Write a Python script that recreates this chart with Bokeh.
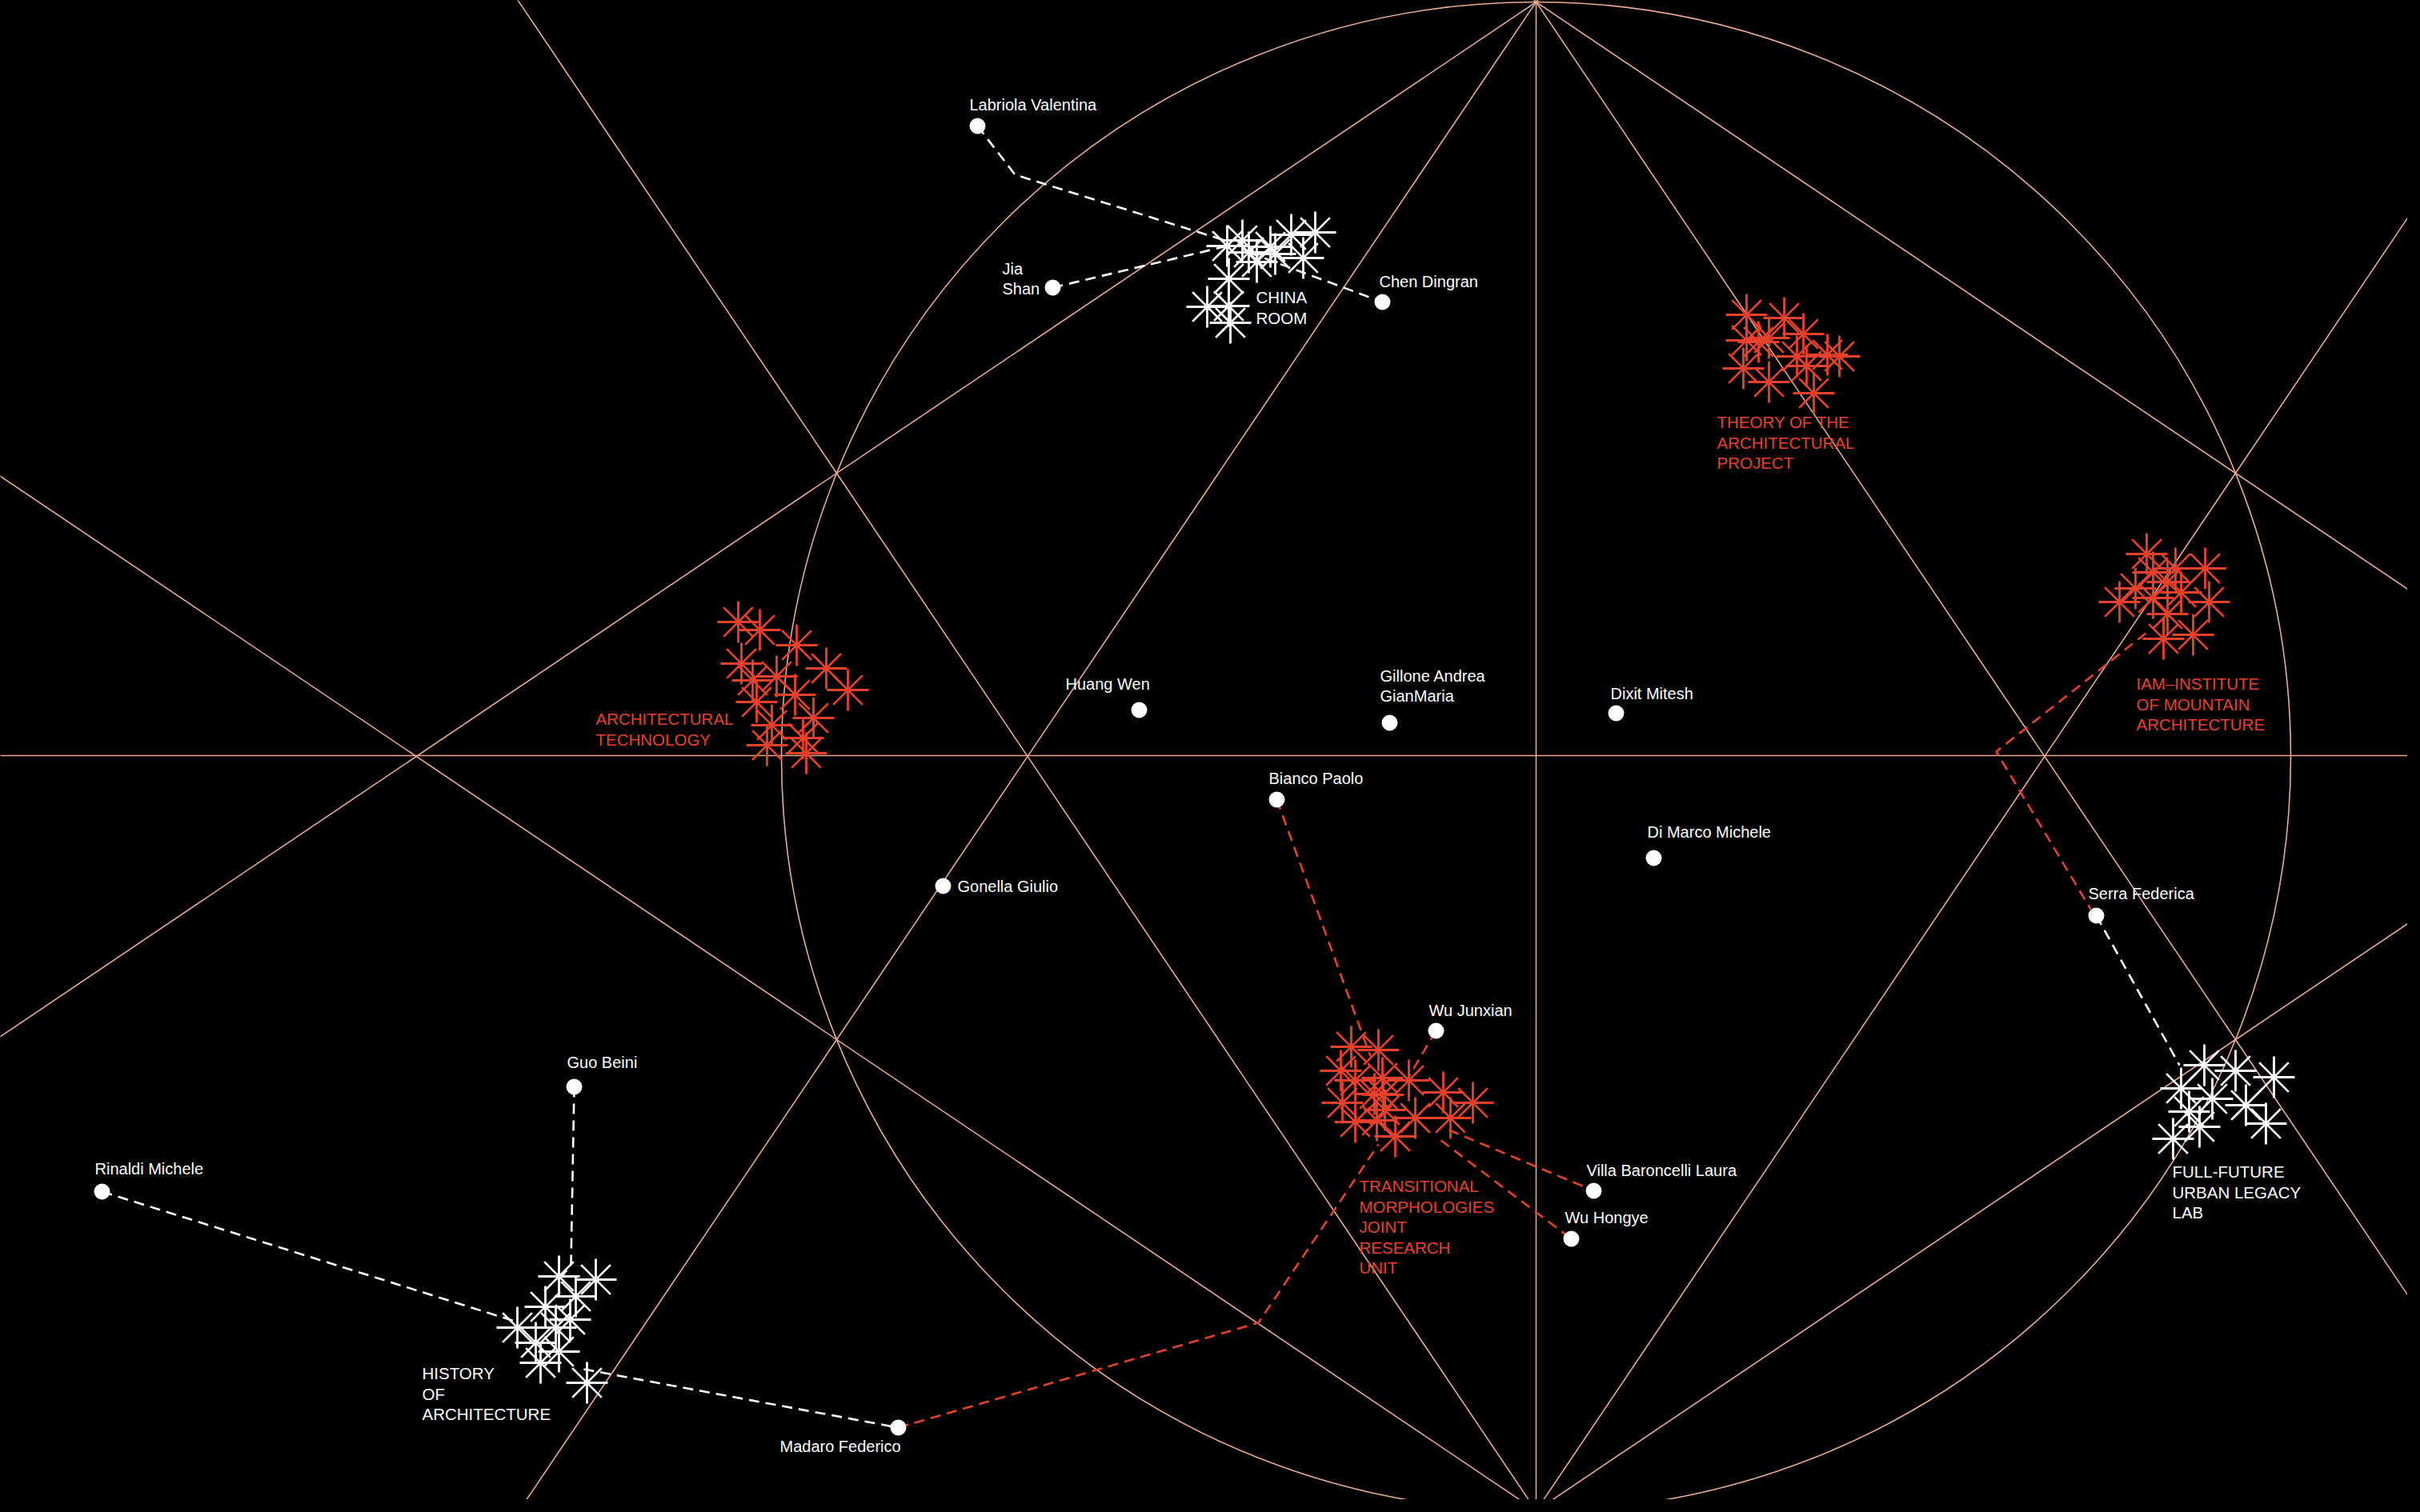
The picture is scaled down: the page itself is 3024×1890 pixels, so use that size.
import numpy as np
from bokeh.plotting import figure
from bokeh.models import Range1d, ColumnDataSource
from bokeh.embed import file_html
from bokeh.resources import INLINE
from bokeh.core.properties import value

# ---------------- data (picture pixel coordinates) ----------------
circle_center = (1919, 945)
circle_radius = 943
top_vertex = (1919, 2)
bottom_vertex = (1919, 1888)
chord_points = [(1045, 591), (1045, 1299), (2793, 591), (2793, 1299)]
axis_y = 944
axis_x = 1919

person_names = ["Labriola Valentina", "Jia\nShan", "Chen Dingran", "Huang Wen",
                "Gillone Andrea\nGianMaria", "Dixit Mitesh", "Bianco Paolo",
                "Di Marco Michele", "Gonella Giulio", "Serra Federica", "Wu Junxian",
                "Guo Beini", "Rinaldi Michele", "Villa Baroncelli Laura", "Wu Hongye",
                "Madaro Federico"]
person_x = [1221, 1315, 1727, 1423, 1736, 2019, 1595, 2066, 1178, 2619, 1794, 717, 127, 1991, 1963, 1122]
person_y = [157, 359, 377, 887, 903, 891, 999, 1072, 1107, 1144, 1288, 1358, 1489, 1488, 1548, 1784]
person_label_x = [1211, 1252, 1723, 1331, 1724, 2012, 1585, 2058, 1196, 2609, 1785, 708, 118, 1982, 1955, 974]
person_label_y = [130, 335, 351, 854, 844, 866, 972, 1039, 1107, 1116, 1262, 1327, 1460, 1462, 1521, 1807]

cluster_labels = ["CHINA\nROOM", "THEORY OF THE\nARCHITECTURAL\nPROJECT", "ARCHITECTURAL\nTECHNOLOGY",
                  "IAM\u2013INSTITUTE\nOF MOUNTAIN\nARCHITECTURE",
                  "TRANSITIONAL\nMORPHOLOGIES\nJOINT\nRESEARCH\nUNIT",
                  "HISTORY\nOF\nARCHITECTURE", "FULL-FUTURE\nURBAN LEGACY\nLAB"]
cluster_label_x = [1569, 2145, 744, 2669, 1698, 527, 2714]
cluster_label_y = [371, 527, 898, 854, 1482, 1716, 1464]
cluster_kind = ["white", "red", "red", "red", "red", "white", "white"]

china_x = [1643, 1613, 1587, 1533, 1560, 1570, 1593, 1628, 1535, 1508, 1535, 1537, 1552]
china_y = [290, 293, 308, 307, 315, 327, 317, 322, 348, 383, 382, 403, 300]
theory_x = [2182, 2229, 2197, 2210, 2253, 2178, 2210, 2245, 2257, 2283, 2298, 2266, 2182]
theory_y = [393, 397, 427, 422, 417, 460, 477, 445, 457, 443, 445, 491, 425]
tech_x = [922, 949, 995, 926, 970, 1032, 1059, 945, 993, 1016, 964, 1003, 958, 1007, 940]
tech_y = [777, 787, 806, 829, 845, 835, 862, 877, 868, 897, 906, 922, 931, 941, 850]
iam_x = [2682, 2718, 2755, 2690, 2708, 2725, 2690, 2760, 2708, 2740, 2703, 2648, 2668]
iam_y = [692, 710, 710, 715, 727, 740, 747, 752, 767, 793, 798, 752, 735]
tmjru_x = [1688, 1722, 1675, 1693, 1727, 1760, 1717, 1728, 1803, 1840, 1677, 1730, 1768, 1812, 1693, 1720, 1743]
tmjru_y = [1308, 1312, 1338, 1350, 1347, 1350, 1367, 1368, 1365, 1378, 1378, 1387, 1397, 1397, 1402, 1400, 1420]
history_x = [698, 744, 719, 681, 712, 646, 694, 669, 698, 675, 733]
history_y = [1595, 1599, 1620, 1633, 1649, 1659, 1659, 1678, 1689, 1703, 1728]
future_x = [2754, 2793, 2841, 2725, 2764, 2806, 2735, 2831, 2748, 2715]
future_y = [1331, 1338, 1346, 1360, 1373, 1381, 1389, 1404, 1408, 1423]

link_xs = [[1221, 1268, 1530], [1315, 1533], [1560, 1727], [717, 713, 700], [127, 646],
           [729, 1122], [2619, 2723],
           [1595, 1712], [1794, 1760], [1810, 1991], [1800, 1963], [1122, 1572, 1722],
           [2681, 2494, 2612]]
link_ys = [[157, 218, 300], [359, 307], [315, 377], [1358, 1580, 1597], [1489, 1652],
           [1711, 1784], [1144, 1331],
           [999, 1320], [1288, 1345], [1412, 1488], [1425, 1548], [1784, 1653, 1430],
           [791, 939, 1136]]
link_kind = ["white"] * 7 + ["red"] * 6

# ---------------- styling ----------------
W, H, M = 3024, 1890, 8
PW, PH = W - 2 * M, H - 2 * M
RED = "#e8412b"
WHITE = "#ffffff"
GEO = "#e9a992"
FONT = "Liberation Sans"
col = {"white": WHITE, "red": RED}

p = figure(width=PW, height=PH, output_backend="svg", toolbar_location=None,
           x_range=Range1d(0, PW), y_range=Range1d(PH, 0),
           background_fill_color="#000000", border_fill_color="#000000",
           min_border=0, outline_line_color=None)
p.axis.visible = False
p.grid.visible = False

try:
    from bokeh.models import GlobalInlineStyleSheet
    p.stylesheets = [GlobalInlineStyleSheet(css="html, body { background-color: #000000; }")]
except Exception:
    pass

# geometry: circle, axes and chords (extended past the frame)
p.circle(x=[circle_center[0]], y=[circle_center[1]], radius=circle_radius,
         fill_color=None, line_color=GEO, line_width=1.6)
gx0, gy0, gx1, gy1 = [-2000, axis_x], [axis_y, -2000], [5000, axis_x], [axis_y, 4000]
for v in (top_vertex, bottom_vertex):
    for cp in chord_points:
        dx, dy = cp[0] - v[0], cp[1] - v[1]
        gx0.append(v[0] - 5 * dx); gy0.append(v[1] - 5 * dy)
        gx1.append(v[0] + 5 * dx); gy1.append(v[1] + 5 * dy)
p.segment(x0=gx0, y0=gy0, x1=gx1, y1=gy1, line_color=GEO, line_width=1.6)

# dashed links
p.multi_line(xs=link_xs, ys=link_ys, line_color=[col[k] for k in link_kind],
             line_width=2.6, line_dash="13 8")

# star clusters
clusters = [(china_x, china_y, "white"), (theory_x, theory_y, "red"), (tech_x, tech_y, "red"),
            (iam_x, iam_y, "red"), (tmjru_x, tmjru_y, "red"), (history_x, history_y, "white"),
            (future_x, future_y, "white")]
for xs, ys, k in clusters:
    p.scatter(x=xs, y=ys, marker="asterisk", size=52, line_color=col[k], line_width=2.8)

# people dots
p.scatter(x=person_x, y=person_y, marker="circle", size=20, fill_color=WHITE, line_color=None)


def expand(texts, xs, ys, colors, step):
    tx, ty, tt, tc = [], [], [], []
    for t, x, y, c in zip(texts, xs, ys, colors):
        for i, line in enumerate(t.split("\n")):
            tx.append(x); ty.append(y + i * step); tt.append(line); tc.append(c)
    return dict(x=tx, y=ty, text=tt, color=tc)


ps = ColumnDataSource(expand(person_names, person_label_x, person_label_y, [WHITE] * len(person_names), 25))
p.text(x="x", y="y", text="text", source=ps, text_color="color", text_font=value(FONT),
       text_font_size="20px", text_baseline="alphabetic", text_align="left")

cs = ColumnDataSource(expand(cluster_labels, cluster_label_x, cluster_label_y,
                             [col[k] for k in cluster_kind], 25.5))
p.text(x="x", y="y", text="text", source=cs, text_color="color", text_font=value(FONT),
       text_font_size="20.5px", text_baseline="alphabetic", text_align="left")

open("out.html", "w").write(file_html(p, INLINE))
